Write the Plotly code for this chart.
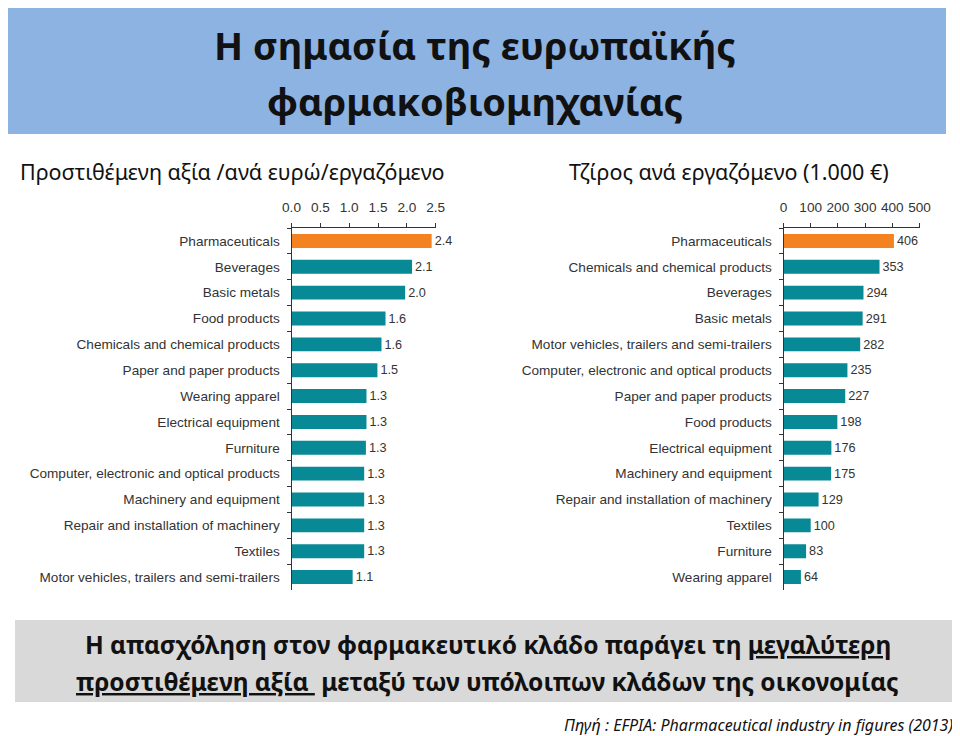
import plotly.graph_objects as go

# The page body has an 8px margin, so the figure is sized to fit the window
OFF = 8
W, H = 960 - OFF, 736 - OFF

# ---- data ----
left_categories = [
    "Pharmaceuticals", "Beverages", "Basic metals", "Food products",
    "Chemicals and chemical products", "Paper and paper products",
    "Wearing apparel", "Electrical equipment", "Furniture",
    "Computer, electronic and optical products", "Machinery and equipment",
    "Repair and installation of machinery", "Textiles",
    "Motor vehicles, trailers and semi-trailers",
]
left_values = [2.43, 2.09, 1.97, 1.63, 1.56, 1.49, 1.30, 1.30, 1.29, 1.26, 1.26, 1.26, 1.26, 1.06]
left_ticks = [0.0, 0.5, 1.0, 1.5, 2.0, 2.5]

right_categories = [
    "Pharmaceuticals", "Chemicals and chemical products", "Beverages",
    "Basic metals", "Motor vehicles, trailers and semi-trailers",
    "Computer, electronic and optical products", "Paper and paper products",
    "Food products", "Electrical equipment", "Machinery and equipment",
    "Repair and installation of machinery", "Textiles", "Furniture",
    "Wearing apparel",
]
right_values = [406, 353, 294, 291, 282, 235, 227, 198, 176, 175, 129, 100, 83, 64]
right_ticks = [0, 100, 200, 300, 400, 500]

highlight = "Pharmaceuticals"

TEAL = "#078996"
ORANGE = "#F58220"
TXT = "#333333"
AX_FONT = dict(family="Liberation Sans, Arial, sans-serif", size=13.6, color=TXT)


def px(x):
    return max(0.0, min(1.0, (x - OFF) / W))


def py(y):
    return max(0.0, min(1.0, 1 - (y - OFF) / H))


def colors(cats):
    return [ORANGE if c == highlight else TEAL for c in cats]


fig = go.Figure()
fig.add_trace(go.Bar(
    x=left_values, y=left_categories, orientation="h",
    marker=dict(color=colors(left_categories), line=dict(width=0)),
    texttemplate="%{x:.1f}", textposition="outside", cliponaxis=False,
    textfont=AX_FONT, xaxis="x", yaxis="y", width=0.54, hoverinfo="skip",
))
fig.add_trace(go.Bar(
    x=right_values, y=right_categories, orientation="h",
    marker=dict(color=colors(right_categories), line=dict(width=0)),
    texttemplate="%{x:.0f}", textposition="outside", cliponaxis=False,
    textfont=AX_FONT, xaxis="x2", yaxis="y2", width=0.54, hoverinfo="skip",
))

y_top, y_bot = 228, 590
ycommon = dict(
    type="category", autorange="reversed", tickson="boundaries",
    ticks="outside", ticklen=4, tickcolor=TXT, showline=True, linecolor=TXT,
    linewidth=1, showgrid=False, zeroline=False, tickfont=AX_FONT,
    domain=[py(y_bot), py(y_top)], automargin=False, ticklabelstandoff=8,
)
xcommon = dict(
    side="top", ticks="outside", ticklen=4, tickcolor=TXT, showline=True,
    linecolor=TXT, linewidth=1, showgrid=False, zeroline=False,
    tickfont=AX_FONT, automargin=False, ticklabelstandoff=6,
)

fig.update_layout(
    width=W, height=H, margin=dict(l=0, r=0, t=0, b=0),
    paper_bgcolor="white", plot_bgcolor="rgba(0,0,0,0)",
    showlegend=False, barmode="overlay",
    xaxis=dict(xcommon, domain=[px(291.5), px(435.7)], range=[0, 2.5],
               tickvals=left_ticks, tickformat=".1f", anchor="y"),
    yaxis=dict(ycommon, categoryarray=left_categories, categoryorder="array", anchor="x"),
    xaxis2=dict(xcommon, domain=[px(783.5), px(919.5)], range=[0, 500],
                tickvals=right_ticks, tickformat="d", anchor="y2"),
    yaxis2=dict(ycommon, categoryarray=right_categories, categoryorder="array", anchor="x2"),
)

# background boxes
fig.add_shape(type="rect", xref="paper", yref="paper",
              x0=px(2), x1=px(946), y0=py(134), y1=py(3),
              fillcolor="#8DB3E2", line=dict(width=0), layer="below")
fig.add_shape(type="rect", xref="paper", yref="paper",
              x0=px(15), x1=px(960), y0=py(702), y1=py(620),
              fillcolor="#D9D9D9", line=dict(width=0), layer="below")

TITLE_FONT = "Noto Sans, Open Sans, sans-serif"


def note(text, x, y, size, xanchor="center"):
    fig.add_annotation(text=text, x=px(x), y=py(y), xref="paper", yref="paper",
                       showarrow=False, xanchor=xanchor, yanchor="middle",
                       font=dict(family=TITLE_FONT, size=size, color="#111"))


note("<b>Η σημασία της ευρωπαϊκής</b>", 475, 45, 38)
note("<b>φαρμακοβιομηχανίας</b>", 475, 101, 38)

note("Προστιθέμενη αξία /ανά ευρώ/εργαζόμενο", 18, 172, 21.5, "left")
note("Τζίρος ανά εργαζόμενο (1.000 €)", 567, 172, 21.5, "left")

note("<b>Η απασχόληση στον φαρμακευτικό κλάδο παράγει τη <u>μεγαλύτερη</u></b>", 488, 644, 24.5)
note("<b><u>προστιθέμενη αξία </u> μεταξύ των υπόλοιπων κλάδων της οικονομίας</b>", 487, 681, 24.5)

note("<i>Πηγή : EFPIA: Pharmaceutical industry in figures (2013)</i>", 955, 725, 16, "right")

fig.write_html("out.html")
